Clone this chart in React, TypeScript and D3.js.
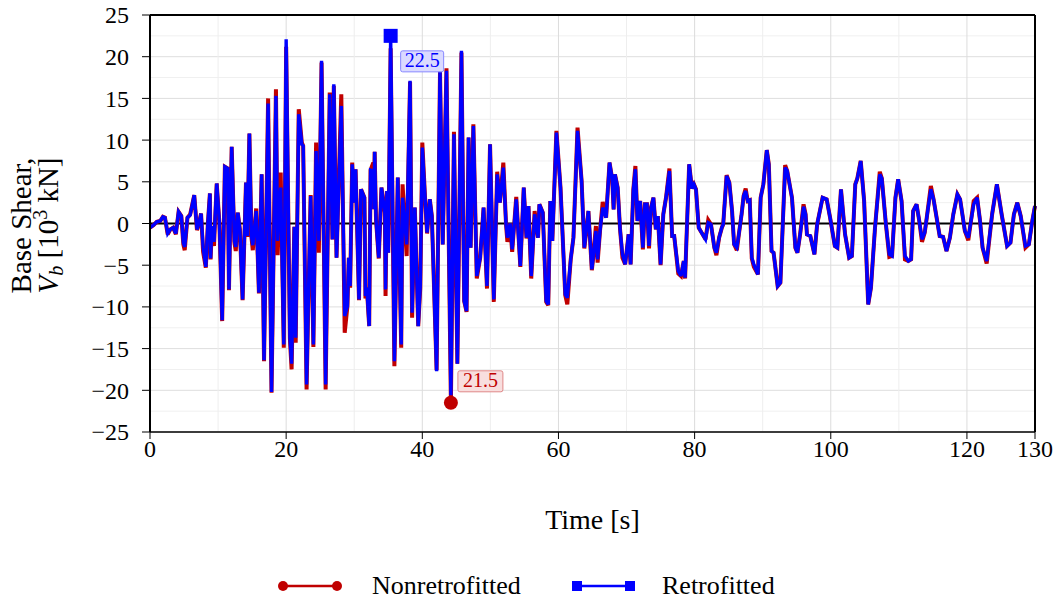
import React from "react";
import * as d3 from "d3";

const times = [
  0,0.5,1,1.5,1.9,2.2,2.6,3,3.4,3.8,
  4.2,4.6,4.9,5.1,5.5,5.9,6.5,6.9,7.2,7.5,
  7.8,8.2,8.5,8.8,8.9,9.1,9.4,9.8,10.2,10.6,
  11,11.4,11.6,12,12.4,12.6,12.9,13.2,13.6,14.1,
  14.3,14.6,14.9,15.1,15.6,16,16.4,16.75,17.35,17.85,
  18.5,18.75,19.2,19.65,20,20.55,20.8,21.2,21.4,21.85,
  22.3,22.5,23,23.3,23.6,24,24.4,24.8,25.2,25.8,
  26.4,26.8,27,27.4,28.1,28.6,29,29.2,29.4,29.7,
  30,30.2,30.7,31,31.5,31.65,31.85,32.2,32.4,32.8,
  32.9,33,33.2,33.6,34,34.5,34.6,34.8,35,35.35,
  35.9,36.4,36.9,37.1,37.7,38.2,38.5,38.9,39.4,39.7,
  40,40.4,40.7,41.1,41.4,42.1,42.6,43,43.55,44.2,
  44.65,45.15,45.75,46.15,46.5,46.8,47.1,47.5,48,48.5,
  49,49.5,49.95,50.5,51,51.4,51.9,52.3,52.5,52.9,
  53.2,53.8,54.4,54.9,55.3,55.6,56,56.5,57,57.2,
  57.7,58.2,58.5,58.8,59.1,59.7,60.3,61,61.3,61.8,
  62.2,62.8,63.4,63.8,64.4,64.9,65.1,65.5,65.75,66.1,
  66.5,67,67.5,67.9,68.1,68.3,68.7,69.05,69.4,69.8,
  70.3,70.6,71,71.3,71.6,72,72.4,72.7,73,73.3,
  73.6,73.95,74.3,74.6,75,75.4,75.8,76.3,76.7,77,
  77.6,78,78.4,78.6,79.2,79.6,79.9,80.2,80.6,81.6,
  82,82.4,82.9,83.2,83.6,84,84.2,84.7,85.1,85.5,
  85.8,86.2,86.5,86.9,87.2,87.5,87.8,88.1,88.4,88.7,
  89.3,89.7,90.1,90.6,90.9,91.3,91.6,92.2,92.6,93.3,
  93.6,94.3,94.8,95.1,95.5,96,96.3,96.5,97,97.6,
  98,98.8,99.4,99.9,100.6,100.97,101.5,102.1,102.7,103.1,
  103.6,103.9,104.4,104.9,105.5,105.9,106.5,107.2,107.5,108.1,
  108.6,109,109.5,109.9,110.4,110.9,111.4,111.8,112.1,112.6,
  113,113.4,113.8,114.1,114.7,115.1,116,116.5,117,117.5,
  118,118.6,119,119.7,120.2,121,121.5,121.9,122.3,122.9,
  123.7,124.4,125.1,125.9,126.4,126.9,127.4,127.9,128.6,129.1,
  129.6,130,
];

const retrofitted = [
  -0.5,-0.2,0.2,0.3,0.8,0.7,-1.2,-0.7,-0.5,-1.2,
  1.4,0.9,-2.3,-2.8,0.7,1.0,3.4,-0.7,0.0,1.2,
  -2.9,-5.2,0.0,3.6,-4.2,-0.3,-2.2,4.8,0.0,-11.6,
  6.8,6.6,-7.9,9.2,-2.1,-2.8,1.3,-0.7,-9.1,4.9,
  -1.5,10.8,-1.5,-2.6,1.5,-8.3,5.9,-16.4,14.4,-20.2,
  15.3,-2.1,4.3,-14.5,22.1,-13.7,-16.8,-0.4,-13.7,13.1,
  9.5,9.3,-19.3,-7.7,3.3,-14.5,8.7,-2.1,19.5,-19.3,
  15.5,-1.9,16.7,-4.1,14.1,-11.1,-9.9,-4.1,-7.5,7.1,
  2.5,6.5,-9.1,4.1,3.1,-8.7,-7.7,-12.3,6.4,6.3,
  1.7,8.6,0.5,-4.1,4.3,1.3,-7.9,3.9,-3.5,22.5,
  -16.5,5.5,-14.5,3.1,-2.5,17.1,-10.7,1.9,-12.3,-7.5,
  9.1,3.1,-1.1,2.9,0.9,-17.7,18.3,-2.5,18.3,-20.6,
  10.7,-16.8,20.7,-9.3,-10.5,10.3,-2.9,11.7,-6.3,-4.1,
  1.9,-7.5,9.5,-9.1,5.9,2.5,6.7,-0.1,-1.7,0.0,
  -3.1,2.9,-5.1,4.3,-1.7,2.1,-6.3,1.1,-1.7,2.3,
  1.3,-9.3,-9.7,2.7,-2.1,10.9,4.3,-8.5,-8.9,-4.3,
  -1.7,11.1,5.1,-2.9,1.5,-5.5,-4.1,-0.9,-4.3,-0.9,
  1.9,0.7,7.3,5.3,1.7,5.9,4.3,-0.7,-3.7,-4.9,
  -1.3,-4.9,4.1,6.5,0.3,2.7,-2.9,2.3,2.3,-2.7,
  1.9,3.1,-0.7,0.9,-4.9,1.1,3.1,6.3,-1.5,-1.5,
  -5.7,-6.3,-4.5,-6.5,7.1,4.2,4.7,4.1,-0.5,-1.9,
  0.1,-0.1,-2.9,-3.5,-1.7,-0.5,-0.1,5.7,4.9,1.5,
  -2.5,-2.9,-1.3,1.1,3.3,3.9,2.7,2.8,-4.1,-4.9,
  -6.1,3.1,4.7,8.8,7.1,-3.3,-3.5,-7.5,-7.1,6.7,
  6.3,3.1,-2.9,-3.5,-1.3,2.0,1.1,-1.3,-1.5,-3.7,
  -0.1,3.1,2.9,0.7,-2.7,-2.9,4.1,-1.3,-4.1,-3.9,
  4.7,5.4,7.5,2.7,-9.7,-7.7,-0.5,5.9,5.4,-0.1,
  -3.7,-3.9,3.1,5.3,2.7,-3.9,-4.5,-4.3,1.5,2.3,
  0.3,-1.9,-1.1,0.7,4.1,2.9,-1.5,-1.6,-3.3,-1.7,
  1.1,3.5,2.9,-0.9,-1.7,2.3,3.1,0.5,-2.9,-4.5,
  1.1,4.7,1.1,-2.7,-2.3,1.1,2.5,0.9,-2.7,-2.5,
  0.3,2.1,
];

const nonretrofitted = [
  -0.5,-0.2,0.2,0.3,0.8,0.7,-1.3,-0.7,-0.5,-1.3,
  1.4,0.9,-2.5,-3.2,0.7,1.1,3.4,-0.8,0.0,1.2,
  -3.4,-5.3,0.0,3.6,-4.3,-0.3,-2.7,4.8,0.0,-11.7,
  6.8,6.6,-8.0,9.2,-2.3,-3.3,1.3,-0.7,-9.2,4.9,
  -1.6,10.8,-1.6,-3.2,1.8,-8.4,5.9,-16.5,15.0,-20.3,
  16.1,-3.8,6.1,-14.9,21.2,-13.8,-17.5,-0.4,-14.3,13.7,
  9.7,9.3,-19.9,-7.7,3.4,-14.8,9.7,-3.5,19.3,-19.9,
  15.7,-1.9,16.5,-4.1,15.5,-13.1,-9.9,-4.1,-7.7,7.3,
  2.5,6.5,-9.2,4.1,3.1,-9.0,-7.7,-12.3,6.4,7.3,
  1.7,8.6,0.5,-4.2,4.3,1.3,-8.7,3.9,-3.5,21.0,
  -17.1,5.5,-14.9,4.7,-3.9,17.0,-11.3,1.9,-12.3,-7.7,
  9.7,3.1,-1.2,2.9,0.9,-17.6,18.2,-2.5,18.6,-21.5,
  11.0,-16.8,20.5,-9.3,-10.6,10.3,-2.9,11.9,-6.6,-4.1,
  1.9,-7.8,9.5,-9.4,6.2,2.5,7.3,-0.1,-2.2,0.0,
  -3.4,3.2,-5.2,4.3,-1.8,2.1,-6.6,1.5,-1.7,2.3,
  1.3,-9.4,-9.8,2.7,-2.1,11.1,4.3,-8.6,-9.7,-4.3,
  -1.7,11.5,5.1,-3.0,1.5,-5.6,-4.1,-0.3,-4.7,-0.9,
  2.6,0.7,7.3,5.3,1.7,5.9,4.3,-0.7,-4.1,-4.9,
  -1.3,-4.9,4.1,6.9,0.3,2.7,-3.1,2.3,2.3,-3.0,
  1.9,3.1,-0.7,0.9,-5.0,1.1,3.1,6.6,-1.5,-1.5,
  -6.0,-6.3,-4.5,-6.6,7.1,4.2,4.7,4.1,-0.5,-1.9,
  0.4,-0.1,-2.9,-3.8,-1.7,-0.5,-0.1,5.8,4.9,1.5,
  -2.5,-3.2,-1.3,1.1,3.3,4.2,2.7,2.8,-4.2,-5.2,
  -6.1,3.1,4.7,8.8,7.1,-3.3,-3.5,-7.5,-7.1,7.0,
  6.3,3.1,-2.9,-3.5,-1.3,2.3,1.1,-1.3,-1.5,-3.7,
  -0.1,3.1,2.9,0.7,-2.7,-2.9,4.1,-1.3,-4.1,-3.9,
  4.7,5.4,7.5,2.7,-9.7,-7.7,-0.5,6.2,5.4,-0.1,
  -4.0,-3.9,3.1,5.3,2.7,-4.3,-4.5,-4.3,1.5,2.3,
  0.3,-2.2,-1.1,0.7,4.5,2.9,-1.5,-1.6,-3.3,-1.7,
  1.1,3.5,2.9,-0.9,-2.0,2.7,3.1,0.5,-2.9,-4.8,
  1.1,4.7,1.1,-2.7,-2.3,1.1,2.5,0.9,-2.9,-2.5,
  0.3,2.1,
];

const xTicks = [0, 20, 40, 60, 80, 100, 120, 130];
const xGrid = [10, 20, 30, 40, 50, 60, 70, 80, 90, 100, 110, 120];
const yTicks = [-25, -20, -15, -10, -5, 0, 5, 10, 15, 20, 25];
const yMinorGrid = [-22.5, -17.5, -12.5, -7.5, -2.5, 2.5, 7.5, 12.5, 17.5, 22.5];
const seriesNames = ["Nonretrofitted", "Retrofitted"];

const RED = "#c00000";
const BLUE = "#0000ff";
const FONT = "'Liberation Serif', 'Times New Roman', serif";

export default function App() {
  const W = 1060, H = 604;
  const left = 150, right = 1035, top = 15, bottom = 432;
  const x = d3.scaleLinear().domain([0, 130]).range([left, right]);
  const y = d3.scaleLinear().domain([-25, 25]).range([bottom, top]);

  const nonData = times.map((t, i) => [t, nonretrofitted[i]] as [number, number]);
  const retData = times.map((t, i) => [t, retrofitted[i]] as [number, number]);
  const line = d3.line<[number, number]>().x(d => x(d[0])).y(d => y(d[1]));

  const iNon = d3.maxIndex(nonretrofitted, v => Math.abs(v));
  const iRet = d3.maxIndex(retrofitted, v => Math.abs(v));
  const nonPeak = nonData[iNon];
  const retPeak = retData[iRet];
  const fmt = d3.format(".1f");

  const tickText = (v: number) => (v < 0 ? "\u2212" + Math.abs(v) : String(v));

  const px = x(retPeak[0]), py = y(retPeak[1]);
  const rx = x(nonPeak[0]), ry = y(nonPeak[1]);
  const cy = (top + bottom) / 2 + 2;

  return (
    <svg width={W} height={H} style={{ position: "absolute", left: 0, top: 0, background: "#fff" }} fontFamily={FONT}>
      <rect x={0} y={0} width={W} height={H} fill="#fff" />
      {/* grid */}
      {yMinorGrid.map(v => (
        <line key={"ym" + v} x1={left} x2={right} y1={y(v)} y2={y(v)} stroke="#f0f0f0" strokeWidth={1} />
      ))}
      {yTicks.map(v => (
        <line key={"yg" + v} x1={left} x2={right} y1={y(v)} y2={y(v)} stroke="#dedede" strokeWidth={1} />
      ))}
      {xGrid.map(v => (
        <line key={"xg" + v} x1={x(v)} x2={x(v)} y1={top} y2={bottom} stroke={v % 20 === 0 ? "#dcdcdc" : "#eeeeee"} strokeWidth={1} />
      ))}
      {/* zero line */}
      <line x1={left} x2={right} y1={y(0)} y2={y(0)} stroke="#000" strokeWidth={2} />
      {/* series */}
      <path d={line(nonData) || ""} fill="none" stroke={RED} strokeWidth={4} strokeLinejoin="miter" strokeMiterlimit={3} />
      <path d={line(retData) || ""} fill="none" stroke={BLUE} strokeWidth={3.4} strokeLinejoin="miter" strokeMiterlimit={3} />
      {/* frame */}
      <line x1={left} x2={right} y1={top} y2={top} stroke="#000" strokeWidth={2} />
      <line x1={right} x2={right} y1={top} y2={bottom} stroke="#000" strokeWidth={2} />
      <line x1={left} x2={left} y1={top} y2={bottom} stroke="#000" strokeWidth={2} />
      <line x1={left} x2={right} y1={bottom} y2={bottom} stroke="#000" strokeWidth={1.5} />
      {/* y ticks */}
      {yTicks.map(v => (
        <g key={"yt" + v}>
          <line x1={left - 8} x2={left} y1={y(v)} y2={y(v)} stroke="#000" strokeWidth={1} />
          <text x={left - 21} y={y(v)} dy="0.35em" textAnchor="end" fontSize={24} fill="#000">{tickText(v)}</text>
        </g>
      ))}
      {/* x ticks */}
      {xTicks.map(v => (
        <g key={"xt" + v}>
          <line x1={x(v)} x2={x(v)} y1={bottom} y2={bottom + 7} stroke="#000" strokeWidth={1} />
          <text x={x(v)} y={bottom + 25} textAnchor="middle" fontSize={24} fill="#000">{tickText(v)}</text>
        </g>
      ))}
      {/* axis labels */}
      <text x={(left + right) / 2} y={529} textAnchor="middle" fontSize={28} fill="#000">Time [s]</text>
      <g transform={`translate(31, ${cy}) rotate(-90)`}>
        <text x={0} y={0} textAnchor="middle" fontSize={29} fill="#000">Base Shear,</text>
      </g>
      <g transform={`translate(58, ${cy}) rotate(-90)`}>
        <text x={0} y={0} textAnchor="middle" fontSize={29} fill="#000">
          <tspan fontStyle="italic">V</tspan>
          <tspan fontStyle="italic" fontSize={20} dy={5}>b</tspan>
          <tspan dy={-5}> [10</tspan>
          <tspan fontSize={20} dy={-11}>3</tspan>
          <tspan dy={11}> kN]</tspan>
        </text>
      </g>
      {/* peak markers */}
      <rect x={px - 7} y={py - 7} width={14} height={14} fill={BLUE} />
      <circle cx={rx} cy={ry} r={7} fill={RED} />
      <g>
        <rect x={px + 10} y={py + 15} width={43} height={21} rx={2} fill="#dadaff" stroke="#8888ff" strokeWidth={1} />
        <text x={px + 31.5} y={py + 31.5} textAnchor="middle" fontSize={20} fill={BLUE}>{fmt(Math.abs(retPeak[1]))}</text>
      </g>
      <g>
        <rect x={rx + 7} y={ry - 32} width={45} height={21} rx={2} fill="#f8dede" stroke="#e08888" strokeWidth={1} />
        <text x={rx + 29.5} y={ry - 15.5} textAnchor="middle" fontSize={20} fill={RED}>{fmt(Math.abs(nonPeak[1]))}</text>
      </g>
      {/* legend */}
      <g>
        <line x1={283} x2={337} y1={586} y2={586} stroke={RED} strokeWidth={2.5} />
        <circle cx={283} cy={586} r={5} fill={RED} />
        <circle cx={337} cy={586} r={5} fill={RED} />
        <text x={372} y={594} fontSize={26} fill="#000">{seriesNames[0]}</text>
        <line x1={577} x2={630} y1={586} y2={586} stroke={BLUE} strokeWidth={2.5} />
        <rect x={572} y={581} width={10} height={10} fill={BLUE} />
        <rect x={625} y={581} width={10} height={10} fill={BLUE} />
        <text x={662} y={594} fontSize={26} fill="#000">{seriesNames[1]}</text>
      </g>
    </svg>
  );
}
